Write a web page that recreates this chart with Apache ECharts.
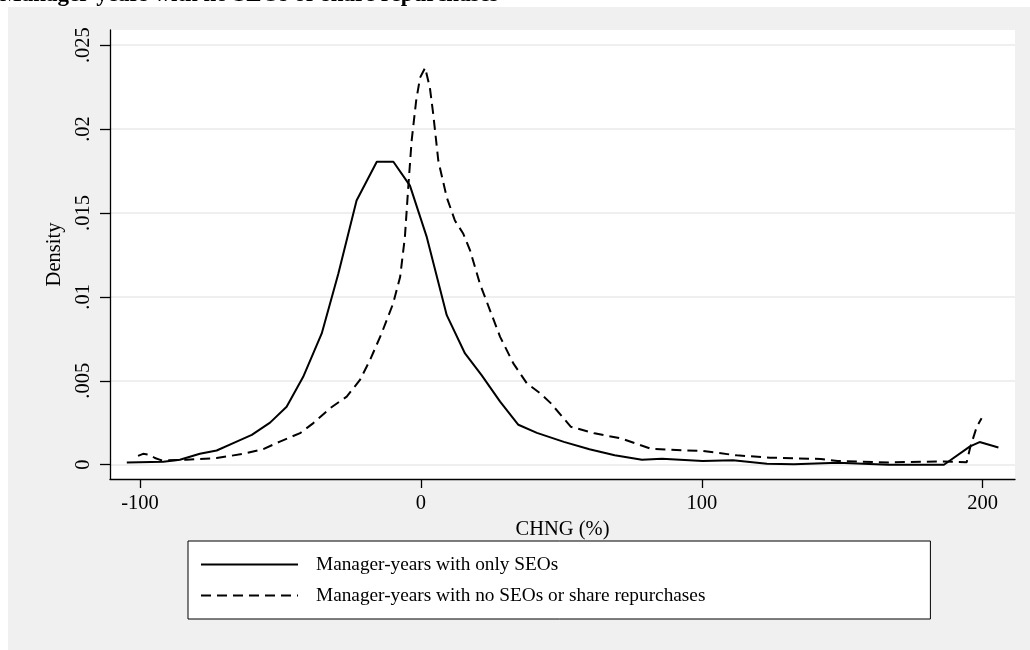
<!DOCTYPE html>
<html>
<head>
<meta charset="utf-8">
<script src="https://cdn.jsdelivr.net/npm/echarts@6/dist/echarts.min.js"></script>
<style>html,body{margin:0;padding:0;background:#fff;}#c{width:1030px;height:650px;}</style>
</head>
<body>
<div id="c"></div>
<script>
// Manager-years with only SEOs (solid)
const seoX = [-104.7,-91.7,-85.8,-78.7,-72.7,-66.8,-60.2,-53.7,-47.8,-41.9,-35.3,-29.4,-22.9,-15.7,-9.8,-3.9,2.1,9.2,15.7,21.6,28.2,34.7,41.3,50.9,60.0,69.0,78.7,85.8,100.3,111.1,123.2,132.8,148.4,166.5,186.2,195.5,198.9,205.6];
const seoY = [0.00014,0.00018,0.0003,0.00065,0.00085,0.00129,0.00178,0.00251,0.00346,0.00524,0.00782,0.01138,0.01574,0.01805,0.01805,0.01663,0.01356,0.00891,0.00663,0.00534,0.00376,0.00238,0.0019,0.00136,0.00092,0.00056,0.0003,0.00036,0.00022,0.00027,0.00006,0.00003,0.00012,0.0,0.0,0.00109,0.00135,0.00103];
// Manager-years with no SEOs or share repurchases (dashed)
const noneX = [-100.7,-98.9,-96.4,-94.7,-92.3,-83.4,-72.7,-63.2,-56.1,-50.2,-43.0,-38.3,-32.3,-26.4,-21.7,-18.1,-14.0,-9.9,-7.4,-5.7,-4.5,-3.3,-1.7,-0.3,1.5,3.2,4.4,6.2,9.2,12.1,15.1,17.5,21.0,24.6,28.2,32.9,37.7,42.4,46.2,53.4,61.8,71.4,81.7,93.1,100.3,112.4,124.3,142.4,148.4,166.5,185.7,194.3,195.5,197.9,199.6];
const noneY = [0.00053,0.00065,0.00059,0.0004,0.00026,0.0003,0.0004,0.00065,0.00093,0.00138,0.00188,0.00248,0.00337,0.00406,0.00505,0.00624,0.00782,0.0096,0.01118,0.01356,0.01653,0.0193,0.02167,0.02306,0.02365,0.02246,0.02088,0.01811,0.01593,0.01455,0.01376,0.01277,0.01079,0.0092,0.00762,0.00604,0.00485,0.00426,0.00367,0.00226,0.00187,0.00156,0.00096,0.00086,0.00082,0.00056,0.00042,0.00034,0.00022,0.00014,0.0002,0.00015,0.001,0.00227,0.00277];
const xTicks = [-100, 0, 100, 200];
const yTicks = [0, 0.005, 0.01, 0.015, 0.02, 0.025];
const yTickLabels = ['0', '.005', '.01', '.015', '.02', '.025'];
const seriesNames = ['Manager-years with only SEOs', 'Manager-years with no SEOs or share repurchases'];
const titleText = 'Manager-years with no SEOs or share repurchases';

const FONT = 'Liberation Serif';
const zip = (xs, ys) => xs.map((x, i) => [x, ys[i]]);

const chart = echarts.init(document.getElementById('c'), null, {renderer: 'canvas'});
chart.setOption({
  backgroundColor: '#ffffff',
  animation: false,
  graphic: [{
    type: 'rect', left: 8, top: 7, z: -10,
    shape: {width: 1022, height: 643},
    style: {fill: '#f0f0f0'}
  }],
  title: {
    text: titleText, left: 0, top: -16, padding: 0,
    textStyle: {fontFamily: FONT, fontWeight: 'bold', fontSize: 23, color: '#000'}
  },
  grid: {
    left: 110, right: 15, top: 30, bottom: 171,
    show: true, backgroundColor: '#ffffff', borderWidth: 0
  },
  xAxis: {
    type: 'value', min: -110.68, max: 211.5,
    name: 'CHNG (%)', nameLocation: 'middle', nameGap: 34,
    nameTextStyle: {fontFamily: FONT, fontSize: 20.5, color: '#000'},
    axisLine: {show: true, onZero: false, lineStyle: {color: '#000', width: 1.3}},
    axisTick: {show: true, length: 9, customValues: xTicks, lineStyle: {color: '#000', width: 1.3}},
    axisLabel: {customValues: xTicks, margin: 14, fontFamily: FONT, fontSize: 20.5, color: '#000'},
    splitLine: {show: false}
  },
  yAxis: {
    type: 'value', min: -0.00085, max: 0.0259,
    name: 'Density', nameLocation: 'middle', nameGap: 41,
    nameTextStyle: {fontFamily: FONT, fontSize: 20.5, color: '#000'},
    axisLine: {show: true, onZero: false, lineStyle: {color: '#000', width: 1.3}},
    axisTick: {show: true, length: 10, customValues: yTicks, lineStyle: {color: '#000', width: 1.3}},
    axisLabel: {
      customValues: yTicks, rotate: 90, margin: 16, fontFamily: FONT, fontSize: 20.5, color: '#000',
      formatter: v => { const i = yTicks.findIndex(t => Math.abs(t - v) < 1e-9); return i >= 0 ? yTickLabels[i] : ''; }
    },
    splitLine: {show: true, lineStyle: {color: '#eaeaea', width: 1.5}}
  },
  legend: {
    orient: 'vertical', left: 188, top: 541,
    padding: [14, 225, 14, 12], itemGap: 12, itemWidth: 97, itemHeight: 19,
    backgroundColor: '#ffffff', borderColor: '#000', borderWidth: 1, borderRadius: 0,
    itemStyle: {opacity: 0},
    textStyle: {fontFamily: FONT, fontSize: 19.3, color: '#000', padding: [0, 0, 0, 13]},
    data: seriesNames
  },
  series: [
    {name: seriesNames[0], type: 'line', data: zip(seoX, seoY), symbol: 'none', showSymbol: false,
     lineStyle: {color: '#000', width: 2, type: 'solid'}, itemStyle: {color: '#000'}},
    {name: seriesNames[1], type: 'line', data: zip(noneX, noneY), symbol: 'none', showSymbol: false,
     lineStyle: {color: '#000', width: 2, type: [10, 6]}, itemStyle: {color: '#000'}}
  ]
});
</script>
</body>
</html>
